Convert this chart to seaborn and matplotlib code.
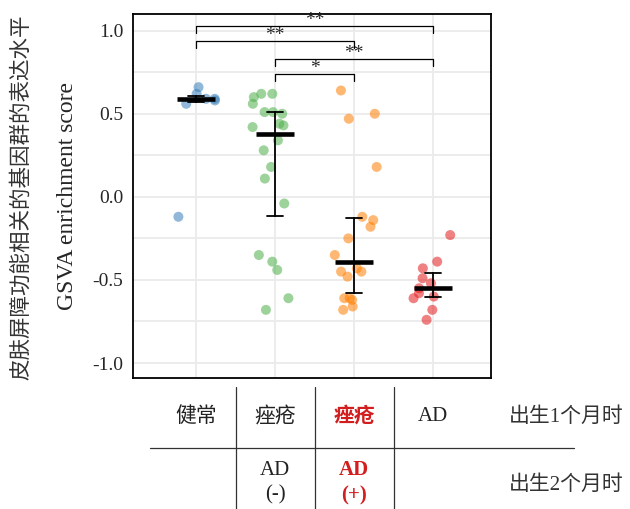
import numpy as np
import pandas as pd
import matplotlib.pyplot as plt
import seaborn as sns

# values
groups = ['健常', '痤疮 AD(-)', '痤疮 AD(+)', 'AD']
healthy = [0.66, 0.59, 0.56, 0.62, 0.59, 0.58, -0.12]
acne_ad_neg = [0.62, 0.60, 0.62, 0.56, 0.51, 0.50, 0.51, 0.43, 0.44, 0.42,
               0.34, 0.28, 0.18, 0.11, -0.04, -0.39, -0.35, -0.44, -0.61, -0.68]
acne_ad_pos = [0.64, 0.47, 0.50, 0.18, -0.12, -0.14, -0.18, -0.25, -0.35,
               -0.45, -0.43, -0.48, -0.45, -0.61, -0.66, -0.68, -0.61, -0.62]
ad_only = [-0.23, -0.39, -0.43, -0.49, -0.52, -0.55, -0.58, -0.60, -0.61, -0.68, -0.74]
colors = ['#377EB8', '#4DAF4A', '#FF7F00', '#E41A1C']

# significance brackets: (group a, group b), height, label
sig_pairs = [(0, 3), (0, 2), (1, 3), (1, 2)]
sig_heights = [1.03, 0.94, 0.83, 0.74]
sig_labels = ['**', '**', '**', '*']

row1_labels = ['健常', '痤疮', '痤疮', 'AD']
row2_labels = ['', 'AD\n(-)', 'AD\n(+)', '']
row_colors = ['#222222', '#222222', '#D21E1E', '#222222']
time_labels = ['出生1个月时', '出生2个月时']

df = pd.DataFrame({
    'group': np.repeat(groups, [len(healthy), len(acne_ad_neg), len(acne_ad_pos), len(ad_only)]),
    'score': healthy + acne_ad_neg + acne_ad_pos + ad_only,
})

sns.set_style('white')
plt.rcParams['font.family'] = ['Liberation Serif', 'Noto Sans CJK SC']
plt.rcParams['axes.unicode_minus'] = False

fig = plt.figure(figsize=(6.3, 5.09), dpi=100)
ax = fig.add_axes([0.211, 0.2574, 0.568, 0.715])

np.random.seed(3)
sns.stripplot(data=df, x='group', y='score', hue='group', order=groups,
              palette=colors, jitter=0.3, size=7.2, alpha=0.55, linewidth=0,
              legend=False, ax=ax, zorder=2)

def iqr(v):
    return np.percentile(v, 25), np.percentile(v, 75)

sns.pointplot(data=df, x='group', y='score', order=groups, estimator='median',
              errorbar=iqr, color='black', linestyle='none', marker='_',
              markersize=28, markeredgewidth=3.3, capsize=0.2,
              err_kws={'linewidth': 1.3}, ax=ax, zorder=4)

ax.set_xlim(-0.8, 3.73)
ax.set_ylim(-1.09, 1.10)
ax.set_yticks([-1.0, -0.5, 0.0, 0.5, 1.0])
ax.set_yticklabels(['-1.0', '-0.5', '0.0', '0.5', '1.0'], fontsize=14)
ax.set_yticks(np.arange(-1.0, 1.01, 0.25), minor=True)
ax.set_xticks(range(len(groups)))
ax.set_xticklabels([])
ax.set_xlabel('')
ax.grid(True, which='both', color='#ebebeb', linewidth=1.3, zorder=0)
ax.set_axisbelow(True)
ax.tick_params(axis='y', which='both', length=0, pad=7)
ax.tick_params(axis='x', length=3, color='#888888')
for sp in ax.spines.values():
    sp.set_color('black')
    sp.set_linewidth(1.3)

ax.set_ylabel('GSVA enrichment score', fontsize=17, labelpad=10)
fig.text(0.035, 0.613, '皮肤屏障功能相关的基因群的表达水平', rotation=90,
         ha='center', va='center', fontsize=15.5, color='#333333')

# significance brackets
for (a, b), h, lab in zip(sig_pairs, sig_heights, sig_labels):
    ax.plot([a, a, b, b], [h - 0.045, h, h, h - 0.045], color='black', lw=0.9,
            clip_on=False, zorder=5)
    ax.text((a + b) / 2, h + 0.03, lab, ha='center', va='center', fontsize=14)

# table under the plot
tr = ax.get_xaxis_transform()
for xv in [0.5, 1.5, 2.5]:
    ax.plot([xv, xv], [-0.025, -0.36], color='#333333', lw=0.9, transform=tr, clip_on=False)
ax.plot([-0.58, 4.78], [-0.192, -0.192], color='#333333', lw=0.9, transform=tr, clip_on=False)
for i in range(len(groups)):
    bold = 'bold' if i == 2 else 'normal'
    ax.text(i, -0.107, row1_labels[i], transform=tr, ha='center', va='center',
            fontsize=15, color=row_colors[i], fontweight=bold)
    if row2_labels[i]:
        ax.text(i, -0.288, row2_labels[i], transform=tr, ha='center', va='center',
                fontsize=15, color=row_colors[i], fontweight=bold, linespacing=1.4)
ax.text(4.68, -0.107, time_labels[0], transform=tr, ha='center', va='center',
        fontsize=15, color='#333333')
ax.text(4.68, -0.294, time_labels[1], transform=tr, ha='center', va='center',
        fontsize=15, color='#333333')

fig.savefig('out.png', dpi=100)
